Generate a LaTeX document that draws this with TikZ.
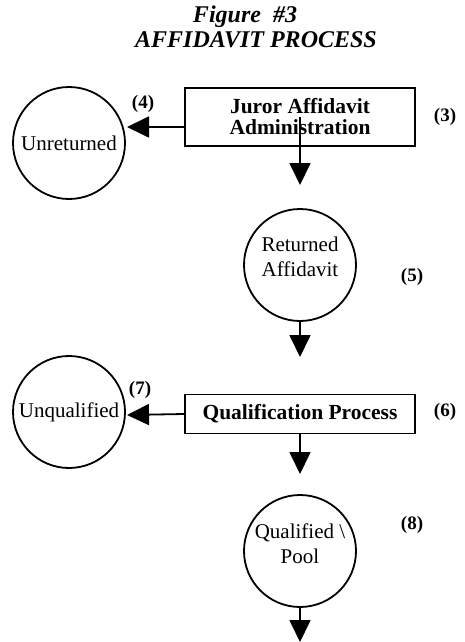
\documentclass[tikz,border=0pt]{standalone}
\usepackage{fontspec}
\setmainfont{Liberation Serif}
\usetikzlibrary{arrows.meta}

\begin{document}
\begin{tikzpicture}[x = 1pt, y = 1pt, line width = 1.8pt,
    font = \fontsize{21}{25}\selectfont,
    stage/.style = {circle, draw, minimum size = 112pt, inner sep = 0pt, align = center},
    task/.style = {rectangle, draw, minimum width = 230pt, minimum height = 58pt,
        align = center, font = \fontsize{21.5}{21}\selectfont\bfseries},
    num/.style = {font = \fontsize{19}{22}\selectfont\bfseries},
    flow/.style = {-{Triangle[length = 22pt, width = 21pt]}}]
\useasboundingbox (0,0) rectangle (464,-642);

\draw (245,-17) node[font = \fontsize{24}{26}\selectfont\bfseries\itshape](t1){Figure \ \#3}
    (256,-40) node[font = \fontsize{24}{26}\selectfont\bfseries\itshape](t2){AFFIDAVIT PROCESS}
    (300,-117) node[task](jaa){Juror Affidavit\\Administration}
    (69,-143) node[stage](unret){Unreturned}
    (300,-265) node[stage, text depth = 16pt](ret){Returned\\Affidavit}
    (300,-414) node[task, minimum height = 39pt](qp){Qualification Process}
    (69,-412) node[stage](unq){Unqualified}
    (300,-551) node[stage, text depth = 14pt](pool){Qualified \textbackslash\\Pool};

% numbers
\draw (445,-117) node[num](n3){(3)}
    (143,-104) node[num](n4){(4)}
    (412,-277) node[num](n5){(5)}
    (445,-412) node[num](n6){(6)}
    (140,-390) node[num](n7){(7)}
    (412,-525) node[num](n8){(8)};

\coordinate (e1) at (300,-185);
\coordinate (e2) at (300,-357);
\coordinate (e3) at (300,-474);
\coordinate (e4) at (300,-642);
\coordinate (w1) at (127,-127);
\coordinate (w2) at (127,-415);

    \path[flow] ([yshift = -10pt]jaa.west) edge (w1);
    \path[flow] (jaa.center) edge (e1);
    \path[flow] (ret.south) edge (e2);
    \path[flow] (qp.west) edge (w2);
    \path[flow] (qp.south) edge (e3);
    \path[flow] (pool.south) edge (e4);

\end{tikzpicture}
\end{document}
